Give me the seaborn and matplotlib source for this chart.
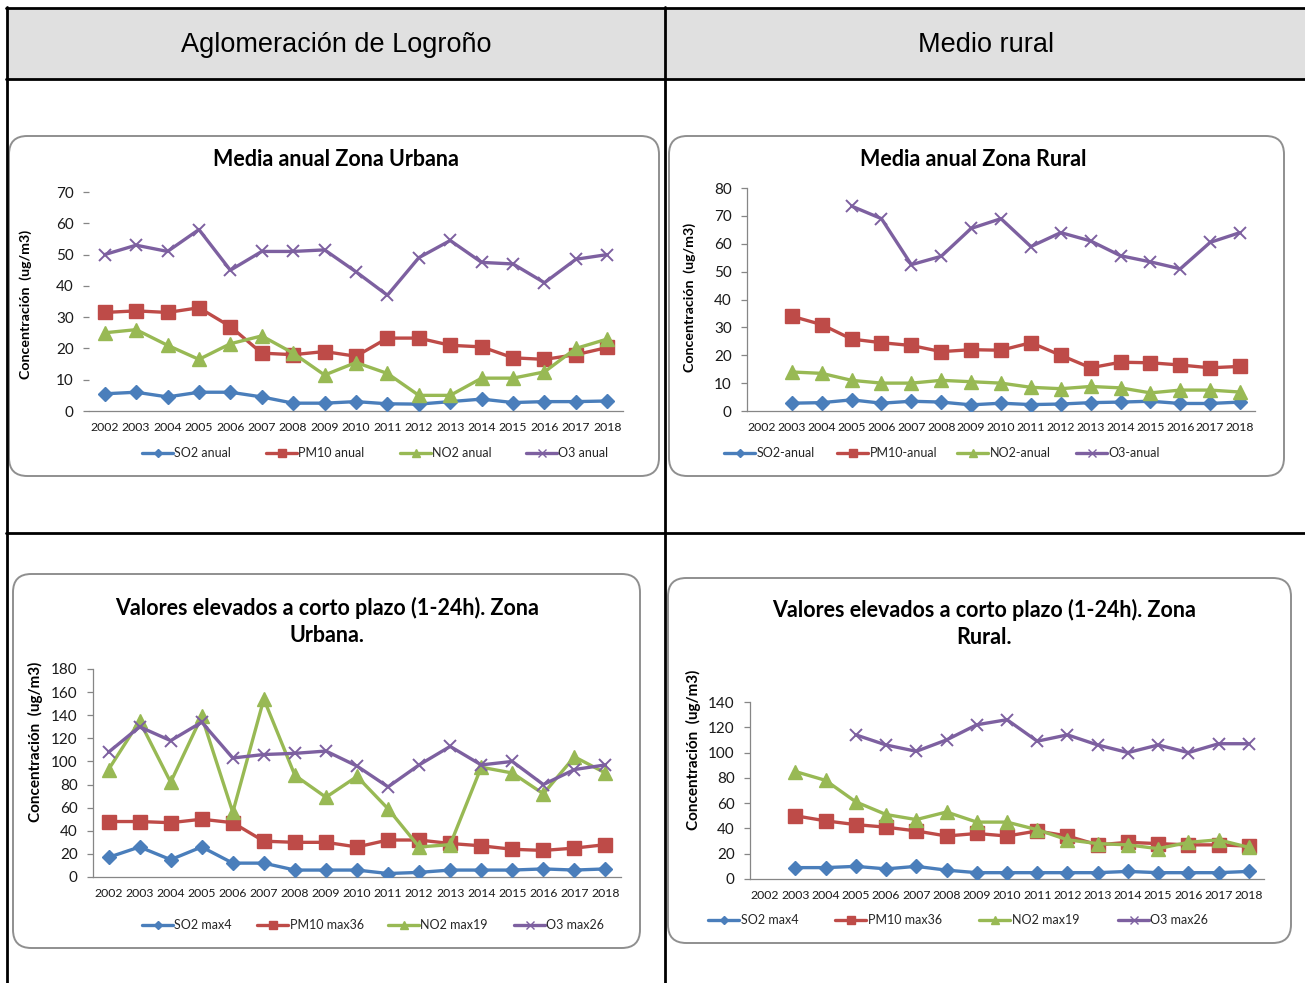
import numpy as np
import pandas as pd
import matplotlib
matplotlib.use("Agg")
import matplotlib.pyplot as plt
import seaborn as sns
from matplotlib.lines import Line2D
from matplotlib.patches import FancyBboxPatch, Rectangle

W, H = 1305, 983

YEARS = [2002, 2003, 2004, 2005, 2006, 2007, 2008, 2009, 2010,
         2011, 2012, 2013, 2014, 2015, 2016, 2017, 2018]
SERIES = ["SO2", "PM10", "NO2", "O3"]
nan = np.nan

# media anual, zona urbana
urb_anual_so2 = [5.5, 6, 4.5, 6, 6, 4.5, 2.5, 2.5, 3, 2.3, 2.2, 3, 3.8, 2.7, 3, 3, 3.2]
urb_anual_pm10 = [31.5, 32, 31.5, 33, 27, 18.5, 18, 19, 17.5, 23.3, 23.3, 21, 20.5, 17, 16.5, 18, 20.3]
urb_anual_no2 = [25, 26, 21, 16.5, 21.5, 24, 18.5, 11.5, 15.5, 12, 5, 5, 10.5, 10.5, 12.5, 20, 23]
urb_anual_o3 = [50, 53, 51, 58, 45, 51, 51, 51.5, 44.5, 37, 49, 54.5, 47.5, 47, 41, 48.5, 50]

# media anual, zona rural
rur_anual_so2 = [nan, 2.8, 3, 4, 2.8, 3.5, 3.2, 2.2, 2.8, 2.3, 2.5, 3, 3.2, 3.5, 2.7, 2.7, 3.2]
rur_anual_pm10 = [nan, 34, 31, 25.8, 24.5, 23.5, 21.3, 22, 21.8, 24.5, 20, 15.5, 17.5, 17.3, 16.5, 15.5, 16]
rur_anual_no2 = [nan, 14, 13.5, 11, 10, 10, 11, 10.5, 10, 8.5, 8, 8.8, 8.3, 6.5, 7.5, 7.5, 6.8]
rur_anual_o3 = [nan, nan, nan, 73.5, 69, 52.5, 55.5, 65.5, 69, 59, 64, 61, 55.7, 53.5, 51, 60.5, 64]

# valores elevados a corto plazo, zona urbana
urb_max_so2 = [17, 26, 15, 26, 12, 12, 6, 6, 6, 3, 4, 6, 6, 6, 7, 6, 7]
urb_max_pm10 = [48, 48, 47, 50, 47, 31, 30, 30, 26, 32, 32, 29, 27, 24, 23, 25, 28]
urb_max_no2 = [93, 135, 82, 139, 56, 154, 88, 69, 87, 59, 26, 28, 95, 90, 72, 104, 90]
urb_max_o3 = [108, 130, 118, 134, 103, 106, 107, 109, 96, 78, 97, 113, 97, 100, 80, 93, 97]

# valores elevados a corto plazo, zona rural
rur_max_so2 = [nan, 9, 9, 10, 8, 10, 7, 5, 5, 5, 5, 5, 6, 5, 5, 5, 6]
rur_max_pm10 = [nan, 50, 46, 43, 41, 38, 34, 36, 34, 38, 34, 27, 29, 28, 27, 27, 26]
rur_max_no2 = [nan, 85, 78, 61, 51, 47, 53, 45, 45, 39, 31, 28, 27, 24, 29, 31, 25]
rur_max_o3 = [nan, nan, nan, 114, 106, 101, 110, 122, 126, 109, 114, 106, 100, 106, 100, 107, 107]

LABELS_URB_ANUAL = ["SO2 anual", "PM10 anual", "NO2 anual", "O3 anual"]
LABELS_RUR_ANUAL = ["SO2-anual", "PM10-anual", "NO2-anual", "O3-anual"]
LABELS_MAX = ["SO2 max4", "PM10 max36", "NO2 max19", "O3 max26"]

COLORS = {"SO2": "#4a7ebb", "PM10": "#be4b48", "NO2": "#98b954", "O3": "#7d60a0"}
MARKERS = {"SO2": ("D", 7.5), "PM10": ("s", 9.5), "NO2": ("^", 10.5), "O3": ("x", 9)}
AXIS_GRAY = "#868686"

sns.set_style("white")
plt.rcParams["font.family"] = ["Lato", "DejaVu Sans"]


def fx(x):
    return x / W


def fy(y):
    return 1 - y / H


panels = [
    dict(values=[urb_anual_so2, urb_anual_pm10, urb_anual_no2, urb_anual_o3],
         labels=LABELS_URB_ANUAL, axbox=(89, 192, 623, 411), ymax=70, step=10,
         frame=(9, 136, 659, 476), title="Media anual Zona Urbana", title_xy=(336, 159),
         ylabel_xy=(26, 304), ylabel_size=10.2, legend_y=453,
         legend_x=[142, 266, 400, 526], show_left=False),
    dict(values=[rur_anual_so2, rur_anual_pm10, rur_anual_no2, rur_anual_o3],
         labels=LABELS_RUR_ANUAL, axbox=(747, 188, 1255, 411), ymax=80, step=10,
         frame=(669, 136, 1284, 476), title="Media anual Zona Rural", title_xy=(973, 160),
         ylabel_xy=(690, 297), ylabel_size=10.2, legend_y=453,
         legend_x=[724, 837, 957, 1076], show_left=True),
    dict(values=[urb_max_so2, urb_max_pm10, urb_max_no2, urb_max_o3],
         labels=LABELS_MAX, axbox=(93, 669, 621, 877), ymax=180, step=20,
         frame=(13, 574, 640, 948),
         title="Valores elevados a corto plazo (1-24h). Zona\nUrbana.", title_xy=(327, 621),
         ylabel_xy=(35, 742), ylabel_size=11, legend_y=925,
         legend_x=[142, 257, 388, 514], show_left=True),
    dict(values=[rur_max_so2, rur_max_pm10, rur_max_no2, rur_max_o3],
         labels=LABELS_MAX, axbox=(750, 702, 1264, 879), ymax=140, step=20,
         frame=(668, 578, 1291, 943),
         title="Valores elevados a corto plazo (1-24h). Zona\nRural.", title_xy=(984, 623),
         ylabel_xy=(693, 750), ylabel_size=11, legend_y=920,
         legend_x=[708, 835, 979, 1118], show_left=True),
]


def draw_panel(fig, p):
    l, t, r, b = p["frame"]
    fig.add_artist(FancyBboxPatch(
        (fx(l), fy(b)), (r - l) / W, (b - t) / H,
        boxstyle="round,pad=0,rounding_size=0.014", mutation_aspect=W / H,
        transform=fig.transFigure, facecolor="none", edgecolor="#8f8f8f",
        linewidth=1.4, zorder=0.5))

    l, t, r, b = p["axbox"]
    ax = fig.add_axes([fx(l), fy(b), (r - l) / W, (b - t) / H])
    ax.set_facecolor("none")

    for key, vals, lab in zip(SERIES, p["values"], p["labels"]):
        df = pd.DataFrame({"year": YEARS, "value": vals}).dropna()
        m, ms = MARKERS[key]
        sns.lineplot(data=df, x="year", y="value", ax=ax, color=COLORS[key],
                     marker=m, markersize=ms, markeredgecolor=COLORS[key],
                     markeredgewidth=1.4 if m == "x" else 1.0, linewidth=2.4,
                     legend=False, zorder=3)

    ax.set_xlim(2001.5, 2018.5)
    ax.set_ylim(0, p["ymax"])
    ax.set_xticks(YEARS)
    ax.set_xticklabels([str(y) for y in YEARS])
    ax.set_xticks(np.arange(2001.5, 2019, 1), minor=True)
    ax.set_yticks(range(0, p["ymax"] + 1, p["step"]))
    ax.tick_params(axis="x", which="major", length=0, labelsize=8.8, pad=8, labelcolor="#1a1a1a")
    ax.tick_params(axis="x", which="minor", length=5, width=0.9, color=AXIS_GRAY, direction="out")
    ax.tick_params(axis="y", which="major", length=4, width=0.9, color=AXIS_GRAY,
                   direction="out", labelsize=11, pad=7, labelcolor="#1a1a1a", left=True)
    ax.set_xlabel("")
    ax.set_ylabel("")
    for s in ["top", "right"]:
        ax.spines[s].set_visible(False)
    ax.spines["bottom"].set_color(AXIS_GRAY)
    ax.spines["bottom"].set_linewidth(0.9)
    ax.spines["left"].set_color(AXIS_GRAY)
    ax.spines["left"].set_linewidth(0.9)
    ax.spines["left"].set_visible(p["show_left"])
    ax.grid(False)

    tx, ty = p["title_xy"]
    fig.text(fx(tx), fy(ty), p["title"], ha="center", va="center", fontsize=15.5,
             fontweight="bold", color="black", linespacing=1.35)
    lx, ly = p["ylabel_xy"]
    fig.text(fx(lx), fy(ly), "Concentración  (ug/m3)", ha="center", va="center",
             rotation=90, fontsize=p["ylabel_size"], fontweight="bold", color="black")

    for key, lab, x0 in zip(SERIES, p["labels"], p["legend_x"]):
        m, ms = MARKERS[key]
        h = Line2D([], [], color=COLORS[key], linewidth=2.4, marker=m,
                   markersize=ms * 0.6, markeredgecolor=COLORS[key],
                   markeredgewidth=1.0)
        fig.legend(handles=[h], labels=[lab], loc="center left",
                   bbox_to_anchor=(fx(x0), fy(p["legend_y"])), frameon=False,
                   handlelength=2.5, handletextpad=0.1, borderpad=0,
                   borderaxespad=0, fontsize=9)
    return ax


fig = plt.figure(figsize=(W / 100, H / 100), dpi=100)
fig.patch.set_facecolor("white")

# header row of the table
fig.add_artist(Rectangle((fx(8), fy(79)), (W - 8) / W, 71 / H, transform=fig.transFigure,
                         facecolor="#e0e0e0", edgecolor="none", zorder=0.2))
for y in [8, 79, 533]:
    fig.add_artist(Line2D([fx(6), 1], [fy(y), fy(y)], transform=fig.transFigure,
                          color="black", linewidth=2.0, zorder=0.6))
for x in [7, 665]:
    fig.add_artist(Line2D([fx(x), fx(x)], [fy(7), 0], transform=fig.transFigure,
                          color="black", linewidth=2.0, zorder=0.6))

fig.text(fx(336), fy(45), "Aglomeración de Logroño", ha="center", va="center",
         fontsize=19.5, family=["Liberation Sans", "DejaVu Sans"], color="black")
fig.text(fx(986), fy(45), "Medio rural", ha="center", va="center",
         fontsize=19.5, family=["Liberation Sans", "DejaVu Sans"], color="black")

for p in panels:
    draw_panel(fig, p)

fig.savefig("out.png", dpi=100, facecolor="white")
